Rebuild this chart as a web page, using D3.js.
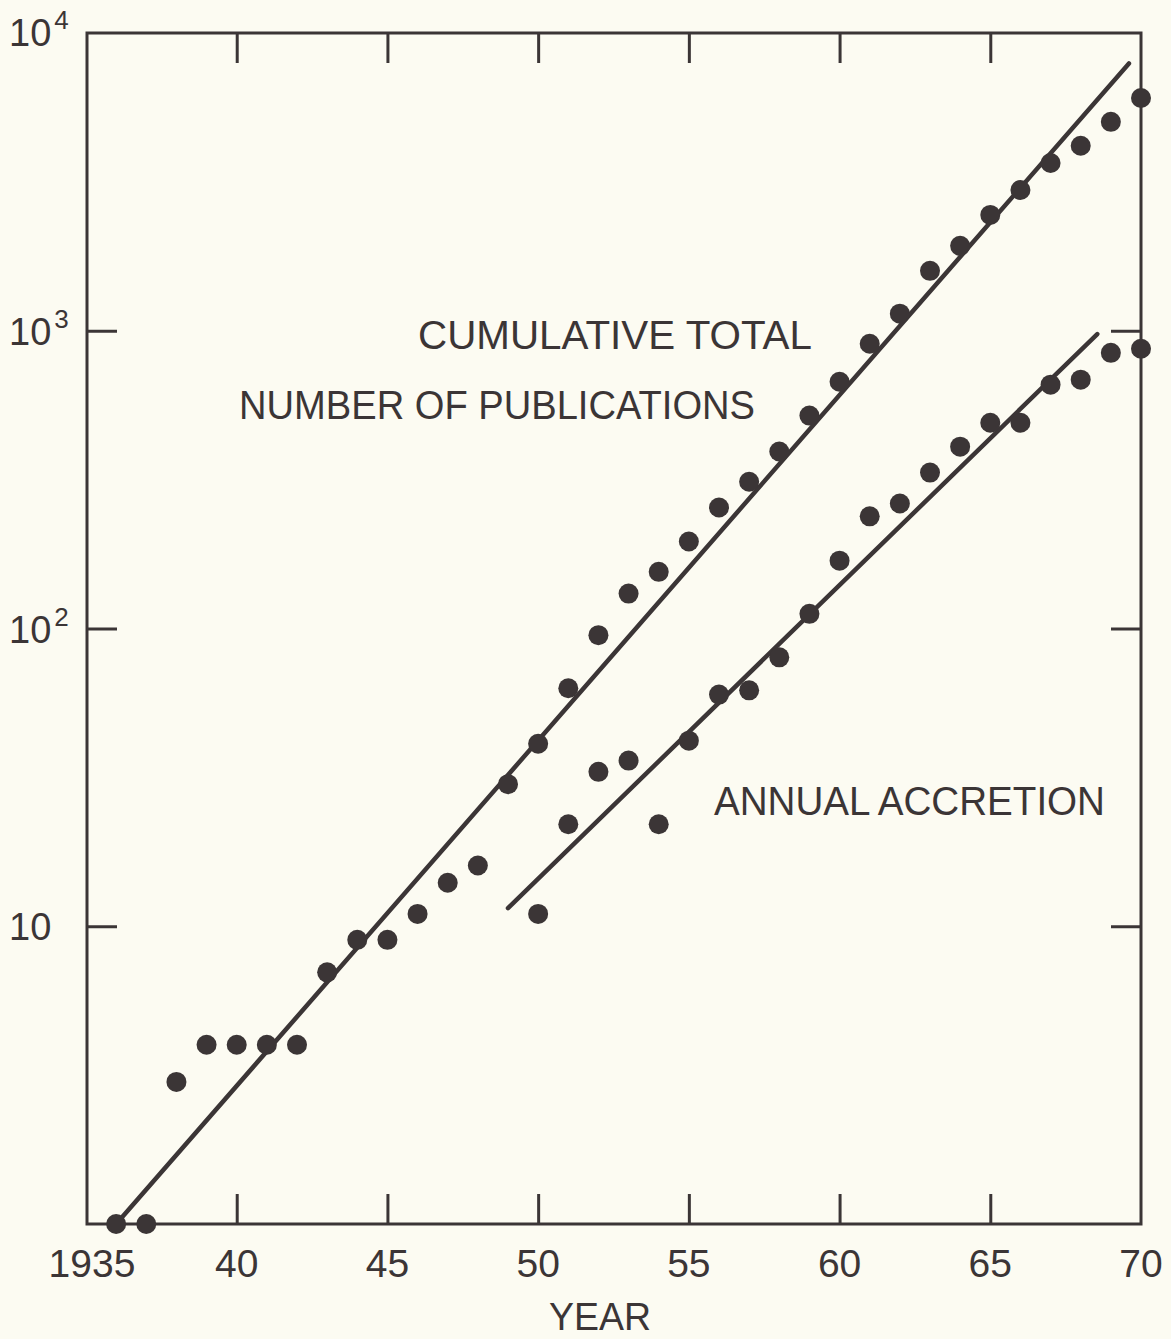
<!DOCTYPE html>
<html>
<head>
<meta charset="utf-8">
<script src="https://cdn.jsdelivr.net/npm/d3@7"></script>
<style>
  body { margin: 0; background: #fcfbf2; }
  svg text { font-family: "Liberation Sans", Arial, sans-serif; fill: #3b3536; }
</style>
</head>
<body>
<div id="chart"></div>
<script>
// data ---------------------------------------------------------------------------------------
const cumYears = d3.range(1936, 1971);
const cumulative = [1, 1, 3, 4, 4, 4, 4, 7, 9, 9, 11, 14, 16, 30, 41, 63, 95, 131, 155, 196,
  255, 311, 393, 519, 674, 904, 1141, 1589, 1928, 2450, 2970, 3660, 4180, 5030, 6050];
const annualYears = d3.range(1950, 1971);
const annual = [11, 22, 33, 36, 22, 42, 60, 62, 80, 112, 169, 238, 263, 334, 408, 491, 491,
  659, 685, 843, 870];
// fitted straight lines (end points)
const cumulativeFit = [[1936, 1], [1969.6, 7900]];
const annualFit = [[1949, 11.5], [1968.55, 975]];
const xTicks = [1935, 1940, 1945, 1950, 1955, 1960, 1965, 1970];
const xLabels = ['1935', '40', '45', '50', '55', '60', '65', '70'];
const yTicks = [10, 100, 1000, 10000];
const yExps = ['', '2', '3', '4'];

// svg ----------------------------------------------------------------------------------------
const width = 1171;
const height = 1339;
const ink = '#3b3536';
const svg = d3.select('#chart').append('svg')
.attr('width', width)
.attr('height', height);

svg.append('rect')
.attr('width', width)
.attr('height', height)
.attr('fill', '#fcfbf2');

const x = d3.scaleLinear().domain([1935, 1970]).range([86, 1141]);
const y = d3.scaleLog().domain([1, 10000]).range([1224, 33]);

// frame --------------------------------------------------------------------------------------
svg.append('rect')
.attr('x', x(1935) + 1)
.attr('y', y(10000))
.attr('width', x(1970) - x(1935) - 1)
.attr('height', y(1) - y(10000))
.attr('fill', 'none')
.attr('stroke', ink)
.attr('stroke-width', 3);

// ticks (inward) ----------------------------------------------------------------------------
const inner = xTicks.slice(1, -1);
const yInner = yTicks.slice(0, -1);
const tickAxis = (axis, tr) => {
  const g = svg.append('g').attr('transform', tr).call(axis);
  g.select('.domain').remove();
  g.selectAll('line').attr('stroke', ink).attr('stroke-width', 3);
  return g;
};
tickAxis(d3.axisBottom(x).tickValues(inner).tickSize(-30).tickFormat(''), `translate(0,${y(1)})`);
tickAxis(d3.axisTop(x).tickValues(inner).tickSize(-30).tickFormat(''), `translate(0,${y(10000)})`);
tickAxis(d3.axisLeft(y).tickValues(yInner).tickSize(-30).tickFormat(''), `translate(${x(1935) + 1},0)`);
tickAxis(d3.axisRight(y).tickValues(yInner).tickSize(-30).tickFormat(''), `translate(${x(1970)},0)`);

// tick labels --------------------------------------------------------------------------------
svg.append('g')
.selectAll('text')
.data(xTicks)
.enter()
.append('text')
.attr('x', d => x(d) + (d === 1935 ? 6 : 0))
.attr('y', 1277)
.attr('text-anchor', 'middle')
.attr('font-size', 39)
.text((d, i) => xLabels[i]);

const yl = svg.append('g')
.selectAll('text')
.data(yTicks)
.enter()
.append('text')
.attr('x', 9)
.attr('y', d => d === 10000 ? 46 : y(d) + 14)
.attr('font-size', 38);
yl.append('tspan').text('10');
yl.append('tspan')
.attr('dx', 3)
.attr('dy', -17)
.attr('font-size', 26)
.text((d, i) => yExps[i]);

svg.append('text')
.attr('x', 600)
.attr('y', 1330)
.attr('text-anchor', 'middle')
.attr('font-size', 38)
.attr('textLength', 102)
.attr('lengthAdjust', 'spacingAndGlyphs')
.text('YEAR');

// fitted lines -------------------------------------------------------------------------------
const line = d3.line().x(d => x(d[0])).y(d => y(d[1]));
[cumulativeFit, annualFit].forEach(f => {
  svg.append('path')
  .attr('d', line(f))
  .attr('fill', 'none')
  .attr('stroke', ink)
  .attr('stroke-width', 4.5)
  .attr('stroke-linecap', 'round');
});

// points -------------------------------------------------------------------------------------
const dots = (yrs, vals) => {
  svg.append('g')
  .selectAll('circle')
  .data(vals)
  .enter()
  .append('circle')
  .attr('cx', (d, i) => x(yrs[i]))
  .attr('cy', d => y(d))
  .attr('r', 10)
  .attr('fill', ink);
};
dots(cumYears, cumulative);
dots(annualYears, annual);

// annotations --------------------------------------------------------------------------------
const notes = [
  {t: 'CUMULATIVE TOTAL', x: 418, y: 349, w: 394},
  {t: 'NUMBER OF PUBLICATIONS', x: 239, y: 419, w: 516},
  {t: 'ANNUAL ACCRETION', x: 714, y: 815, w: 391}
];
svg.append('g')
.selectAll('text')
.data(notes)
.enter()
.append('text')
.attr('x', d => d.x)
.attr('y', d => d.y)
.attr('font-size', 41)
.attr('textLength', d => d.w)
.attr('lengthAdjust', 'spacingAndGlyphs')
.text(d => d.t);
</script>
</body>
</html>
